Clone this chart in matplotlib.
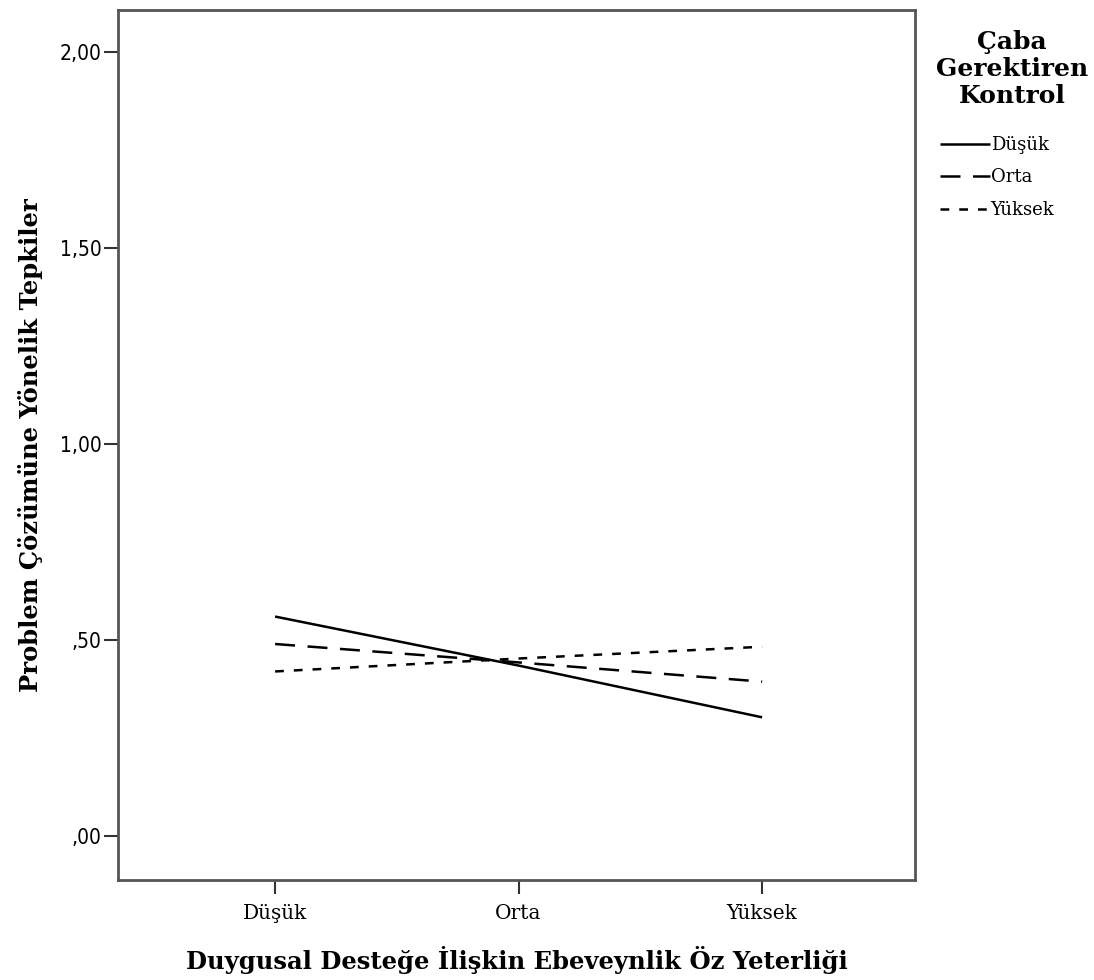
import numpy as np
import matplotlib
matplotlib.use("Agg")
import matplotlib.pyplot as plt

# x categories and the three moderator levels
categories = ["Düşük", "Orta", "Yüksek"]
levels = ["Düşük", "Orta", "Yüksek"]
dusuk = [0.56, 0.435, 0.303]
orta = [0.49, 0.443, 0.394]
yuksek = [0.42, 0.453, 0.483]
yticks = [0.0, 0.5, 1.0, 1.5, 2.0]
ytick_labels = [",00", ",50", "1,00", "1,50", "2,00"]

serif = "DejaVu Serif"

fig = plt.figure(figsize=(10.94, 9.8), dpi=100)
ax = fig.add_axes([0.1079, 0.102, 0.7285, 0.8878])

x = np.arange(len(categories))
styles = [(0, ()), (0, (8, 5)), (0, (3.5, 4))]
for vals, lab, ls in zip([dusuk, orta, yuksek], levels, styles):
    ax.plot(x, vals, color="black", lw=1.8, linestyle=ls, label=lab)

ax.set_xlim(-0.645, 2.628)
ax.set_ylim(-0.112, 2.107)
ax.set_xticks(x)
ax.set_xticklabels(categories, fontfamily=serif, fontsize=14.5)
ax.set_yticks(yticks)
ax.set_yticklabels(ytick_labels, fontfamily="DejaVu Sans", fontstretch="condensed",
                   fontsize=15)
ax.tick_params(axis="both", direction="out", length=10, width=1.5, color="#333333")
ax.tick_params(axis="x", pad=7)
ax.tick_params(axis="y", pad=2)
for s in ax.spines.values():
    s.set_color("#555555")
    s.set_linewidth(2)

ax.set_xlabel("Duygusal Desteğe İlişkin Ebeveynlik Öz Yeterliği",
              fontfamily=serif, fontweight="bold", fontsize=17.5, labelpad=17)
ax.set_ylabel("Problem Çözümüne Yönelik Tepkiler",
              fontfamily=serif, fontweight="bold", fontsize=17.5, labelpad=12)

# legend title drawn separately so the gap to the entries matches
fig.text(1012 / 1094, 1 - 30 / 980, "Çaba\nGerektiren\nKontrol", ha="center",
         va="top", fontfamily=serif, fontweight="bold", fontsize=18,
         linespacing=1.17)
fig.legend(loc="upper left", bbox_to_anchor=(940 / 1094, 1 - 136 / 980),
           frameon=False, borderpad=0, borderaxespad=0, handlelength=2.75,
           handletextpad=0.05, labelspacing=0.8,
           prop={"family": serif, "size": 13})

plt.savefig("out.png", dpi=100)
plt.close()
